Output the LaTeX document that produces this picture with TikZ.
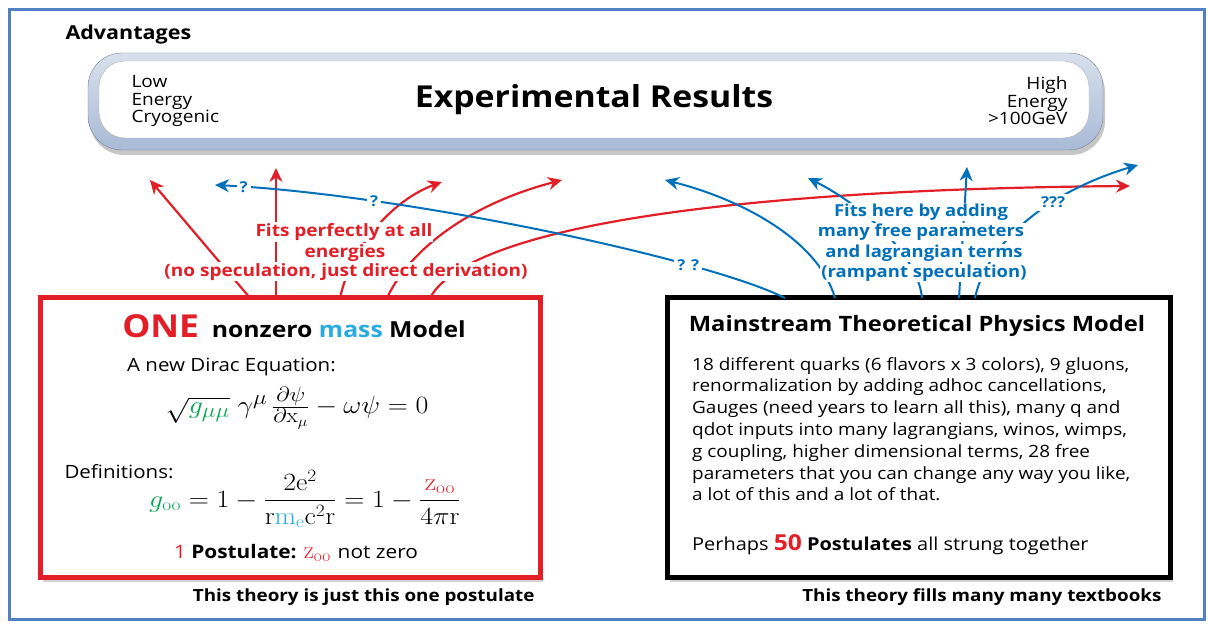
\documentclass[tikz,border=0pt]{standalone}
\usepackage[no-math]{fontspec}
\setmainfont{Open Sans}[FakeStretch=1.12]
\usepackage{amsmath}
\usepackage{tikz}
\usetikzlibrary{arrows.meta,shadows}
\definecolor{fitred}{RGB}{226,30,38}
\definecolor{fitblue}{RGB}{0,112,186}
\definecolor{massblue}{RGB}{41,170,225}
\definecolor{ggreen}{RGB}{0,166,81}
\definecolor{frameblue}{RGB}{80,130,195}
\definecolor{rimblue}{RGB}{168,186,214}

\begin{document}
\begin{tikzpicture}[x=1pt, y=1pt,
    redarrow/.style={-{Stealth[length=14pt,width=13pt]}, line width=2.2pt, fitred},
    bluearrow/.style={-{Stealth[length=14pt,width=13pt]}, line width=2pt, fitblue},
    redlabel/.style={text=fitred, font=\fontsize{17}{20}\selectfont\bfseries, fill=white, inner sep=1pt},
    bluelabel/.style={text=fitblue, font=\fontsize{16.5}{20}\selectfont\bfseries, fill=white, inner sep=1pt},
    qmark/.style={text=fitblue, font=\fontsize{15}{18}\selectfont\bfseries, fill=white, inner sep=3pt},
    modelbox/.style={draw, line width=5pt, outer sep=0pt, minimum height=280pt, fill=white,
        drop shadow={shadow xshift=3pt, shadow yshift=-4pt, opacity=0.35}},
    caption/.style={anchor=east, font=\fontsize{16.8}{18}\selectfont\bfseries},
    mathline/.style={xscale=1.12},
    bodytext/.style={font=\fontsize{16.9}{21.8}\selectfont}]
    \useasboundingbox (0,0) rectangle (1208,624);
    \draw[frameblue, line width=3pt] (9,4) rectangle (1204,614);

    \node[anchor=west, font=\fontsize{19.2}{20}\selectfont\bfseries] (advantages) at (62,589) {Advantages};

    \node[draw=rimblue!70!black, top color=rimblue!45, bottom color=rimblue, rounded corners=34pt,
        minimum width=1015pt, minimum height=97pt,
        drop shadow={shadow xshift=2pt, shadow yshift=-5pt, opacity=0.45}] (rim) at (595.5,522.5) {};
    \node[draw=gray!60, fill=white, rounded corners=26pt, minimum width=990pt, minimum height=77pt,
        font=\fontsize{30.2}{32}\selectfont\bfseries] (results) at (594,524.5) {Experimental Results};
    \node[anchor=west, align=left, font=\fontsize{17}{17.6}\selectfont] (low) at (128,523) {Low\\Energy\\Cryogenic};
    \node[anchor=east, align=right, font=\fontsize{17}{17.6}\selectfont] (high) at (1071,523) {High\\Energy\\>100GeV};

    \node[modelbox, draw=fitred, minimum width=500pt] (onemodel) at (290,186) {};
    \node[modelbox, draw=black, minimum width=503pt] (mainmodel) at (918.5,186) {};

    % left box
    \node[font=\fontsize{22.1}{26}\selectfont\bfseries] (onetitle) at (294,298)
        {\textcolor{fitred}{\fontsize{31.6}{32}\selectfont ONE}\ \ nonzero \textcolor{massblue}{mass} Model};
    \node[anchor=base west, inner sep=0pt, font=\fontsize{18.3}{22}\selectfont] (dirac) at (127,252) {A new Dirac Equation:};
    \node[mathline, inner sep=0pt, font=\fontsize{27.5}{28}\selectfont] (diraceq) at (297,216)
        {$\sqrt{\textcolor{ggreen}{g_{\mu\mu}}}\;\gamma^{\mu}\,\tfrac{\partial\psi}{\partial \mathrm{x}_{\mu}}-\omega\psi=0$};
    \node[anchor=base west, font=\fontsize{18.3}{22}\selectfont] (defs) at (61,145) {Definitions:};
    \node[mathline, font=\fontsize{23.7}{26}\selectfont] (defeq) at (305,125)
        {$\textcolor{ggreen}{g_{\mathrm{oo}}}=1-\dfrac{2\mathrm{e}^2}{\mathrm{r}\textcolor{massblue}{\mathrm{m_e}}\mathrm{c}^2\mathrm{r}}=1-\dfrac{\textcolor{fitred}{\mathrm{z_{oo}}}}{4\pi\mathrm{r}}$};
    \node[font=\fontsize{18.6}{22}\selectfont] (postulate) at (296,71)
        {\textcolor{fitred}{1} \textbf{Postulate:} \fontsize{24}{24}\selectfont$\textcolor{fitred}{\mathrm{z_{oo}}}$ \fontsize{18.6}{22}\selectfont not zero};

    % right box
    \node[font=\fontsize{21.2}{24}\selectfont\bfseries] (maintitle) at (917,298) {Mainstream Theoretical Physics Model};
    \node[anchor=north west, align=left, inner sep=0pt, bodytext] (mainbody) at (692,267)
        {18 different quarks (6 flavors x 3 colors), 9 gluons,\\
         renormalization by adding adhoc cancellations,\\
         Gauges (need years to learn all this), many q and\\
         qdot inputs into many lagrangians, winos, wimps,\\
         g coupling, higher dimensional terms, 28 free\\
         parameters that you can change any way you like,\\
         a lot of this and a lot of that.};
    \node[anchor=base west, inner sep=0pt, font=\fontsize{17.8}{22}\selectfont] (perhaps) at (692,73)
        {Perhaps \textcolor{fitred}{\fontsize{22}{22}\selectfont\bfseries 50} \textbf{Postulates} all strung together};

    \node[caption] (onecaption) at (538,27) {This theory is just this one postulate};
    \node[caption] (maincaption) at (1165,27) {This theory fills many many textbooks};

    % arrow ends
    \coordinate (rtipA) at (150,444);
    \coordinate (rtipB) at (276,456);
    \coordinate (rtipC) at (442,442);
    \coordinate (rtipD) at (562,444);
    \coordinate (rtipE) at (1130,438);
    \coordinate (btipQ) at (215,439);
    \coordinate (btipA) at (665,444);
    \coordinate (btipB) at (808,446);
    \coordinate (btipC) at (967,457);
    \coordinate (btipD) at (1138,459);

    \draw[redarrow] ([xshift=-40pt]onemodel.north) -- (rtipA);
    \draw[redarrow] ([xshift=-14pt]onemodel.north) -- (rtipB);
    \draw[redarrow] ([xshift=50pt]onemodel.north) .. controls (352,380) and (395,425) .. (rtipC);
    \draw[redarrow] ([xshift=97pt]onemodel.north) .. controls (410,375) and (470,420) .. (rtipD);
    \draw[redarrow] ([xshift=140pt]onemodel.north) .. controls (470,400) and (750,435) .. (rtipE);

    \draw[bluearrow] ([xshift=-133.5pt]mainmodel.north) .. controls (705,366) and (400,430) .. (btipQ)
        node[qmark, pos=0.25] (qa) {? ?} node[qmark, pos=0.745] (qb) {?} node[qmark, pos=0.95] (qc) {?};
    \draw[bluearrow] ([xshift=-83.5pt]mainmodel.north) .. controls (818,385) and (740,425) .. (btipA);
    \draw[bluearrow] ([xshift=3.5pt]mainmodel.north) .. controls (918,370) and (860,420) .. (btipB);
    \draw[bluearrow] ([xshift=40.5pt]mainmodel.north) -- (btipC);
    \draw[bluearrow] ([xshift=56.5pt]mainmodel.north) .. controls (985,375) and (1040,430) .. (btipD)
        node[qmark, pos=0.66] (qd) {???};

    % labels over the arrows
    \node[redlabel] (fitsA) at (344,392) {Fits perfectly at all};
    \node[redlabel] (fitsB) at (345,371) {energies};
    \node[redlabel] (fitsC) at (346,352) {(no speculation, just direct derivation)};
    \node[bluelabel] (hereA) at (921,412) {Fits here by adding};
    \node[bluelabel] (hereB) at (921,392) {many free parameters};
    \node[bluelabel] (hereC) at (924,371) {and lagrangian terms};
    \node[bluelabel] (hereD) at (924,351) {(rampant speculation)};
\end{tikzpicture}
\end{document}
